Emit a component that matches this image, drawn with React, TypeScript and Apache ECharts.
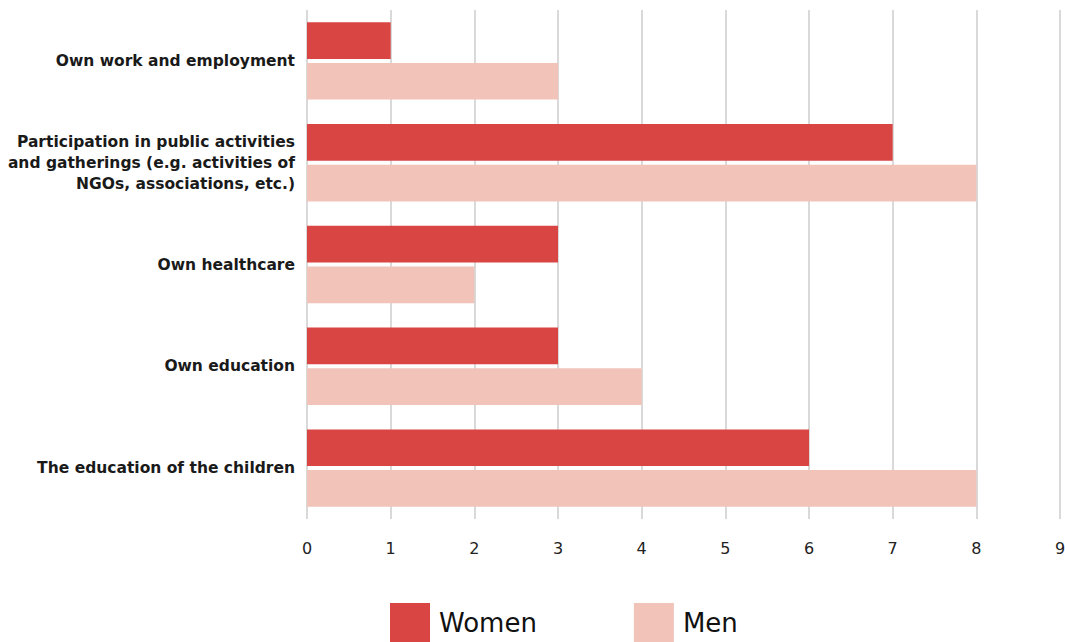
import React, { useEffect, useRef } from "react";
import * as echarts from "echarts";

const categories = [
  "Own work and employment",
  "Participation in public activities\nand gatherings (e.g. activities of\nNGOs, associations, etc.)",
  "Own healthcare",
  "Own education",
  "The education of the children",
];
const women = [1, 7, 3, 3, 6];
const men = [3, 8, 2, 4, 8];
const seriesNames = ["Women", "Men"];
const FONT = "'DejaVu Sans', sans-serif";

export default function App() {
  const ref = useRef<HTMLDivElement>(null);
  useEffect(() => {
    if (!ref.current) return;
    const chart = echarts.init(ref.current, null, { renderer: "svg" });
    chart.setOption({
      animation: false,
      textStyle: { fontFamily: FONT },
      grid: {
        left: 307,
        right: 5,
        top: 10,
        bottom: 123,
        containLabel: false,
        outerBoundsMode: "none",
      },
      legend: {
        data: seriesNames,
        left: 385,
        top: 598,
        itemWidth: 40,
        itemHeight: 40,
        itemGap: 97,
        icon: "rect",
        textStyle: { fontSize: 26, color: "#111", fontFamily: FONT, padding: [0, 0, 0, 4] },
      },
      xAxis: {
        type: "value",
        min: 0,
        max: 9,
        interval: 1,
        axisLine: { show: false },
        axisTick: { show: false },
        axisLabel: { fontSize: 16, color: "#222", margin: 21, fontFamily: FONT },
        splitLine: { show: true, lineStyle: { color: "#cccccc", width: 1.5 } },
      },
      yAxis: {
        type: "category",
        inverse: true,
        data: categories,
        axisLine: { show: false },
        axisTick: { show: false },
        axisLabel: {
          fontSize: 15.5,
          fontWeight: "bold",
          color: "#1a1a1a",
          margin: 12,
          lineHeight: 21,
          align: "right",
          fontFamily: FONT,
        },
      },
      series: [
        {
          name: seriesNames[0],
          type: "bar",
          data: women,
          itemStyle: { color: "#d94543" },
          barGap: "11%",
          barCategoryGap: "24%",
        },
        {
          name: seriesNames[1],
          type: "bar",
          data: men,
          itemStyle: { color: "#f2c4b9" },
          barGap: "11%",
          barCategoryGap: "24%",
        },
      ],
    });
    return () => chart.dispose();
  }, []);
  return (
    <div
      ref={ref}
      style={{ position: "fixed", left: 0, top: 0, width: 1065, height: 642, background: "#fff" }}
    />
  );
}
